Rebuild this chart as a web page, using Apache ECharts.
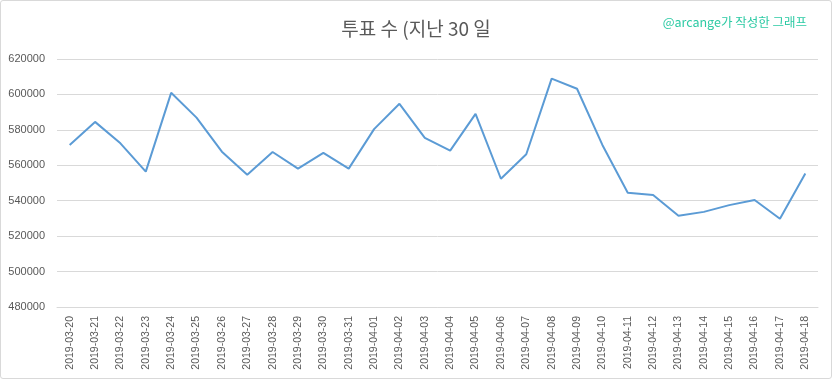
<!DOCTYPE html>
<html><head><meta charset="utf-8">
<script src="https://cdn.jsdelivr.net/npm/echarts@6/dist/echarts.min.js"></script>
<style>
html,body{margin:0;padding:0;background:#fff;}
#c{width:830px;height:377px;border:1px solid #d9d9d9;border-radius:3px;}
</style></head><body>
<div id="c"></div>
<script>
const categories = ["2019-03-20","2019-03-21","2019-03-22","2019-03-23","2019-03-24","2019-03-25","2019-03-26","2019-03-27","2019-03-28","2019-03-29","2019-03-30","2019-03-31","2019-04-01","2019-04-02","2019-04-03","2019-04-04","2019-04-05","2019-04-06","2019-04-07","2019-04-08","2019-04-09","2019-04-10","2019-04-11","2019-04-12","2019-04-13","2019-04-14","2019-04-15","2019-04-16","2019-04-17","2019-04-18"];
const votes = [571500,584500,572400,556400,600900,586900,567700,554700,567500,558100,567000,558100,580400,594700,575500,568300,589000,552400,566200,608900,603200,571500,544500,543200,531500,533700,537500,540400,529800,555300];
const yMin = 480000, yMax = 620000, yStep = 20000;
const chart = echarts.init(document.getElementById('c'));
chart.setOption({
  animation:false,
  title:[{text:'투표 수 (지난 30 일',left:'center',top:13,textStyle:{fontFamily:'Noto Sans CJK KR',fontSize:19,fontWeight:'normal',color:'#595959'}},
         {text:'@arcange가 작성한 그래프',right:19,top:10,textStyle:{fontFamily:'Noto Sans CJK KR',fontSize:12.5,fontWeight:'normal',color:'#2ccaa4'}}],
  grid:{left:56,width:761,top:58,height:248,containLabel:false},
  xAxis:{type:'category',data:categories,boundaryGap:true,
    axisLine:{lineStyle:{color:'#d9d9d9'}},axisTick:{show:false},
    axisLabel:{rotate:90,interval:0,color:'#595959',fontSize:10.5,fontFamily:'Liberation Sans',margin:9}},
  yAxis:{type:'value',min:yMin,max:yMax,interval:yStep,
    axisLine:{show:false},axisTick:{show:false},
    splitLine:{lineStyle:{color:'#d9d9d9'}},
    axisLabel:{color:'#595959',fontSize:11,fontFamily:'Liberation Sans',margin:12,formatter:function(v){return String(v);}}},
  series:[{type:'line',data:votes,symbol:'none',lineStyle:{color:'#5b9bd5',width:2},itemStyle:{color:'#5b9bd5'}}]
});
</script></body></html>
